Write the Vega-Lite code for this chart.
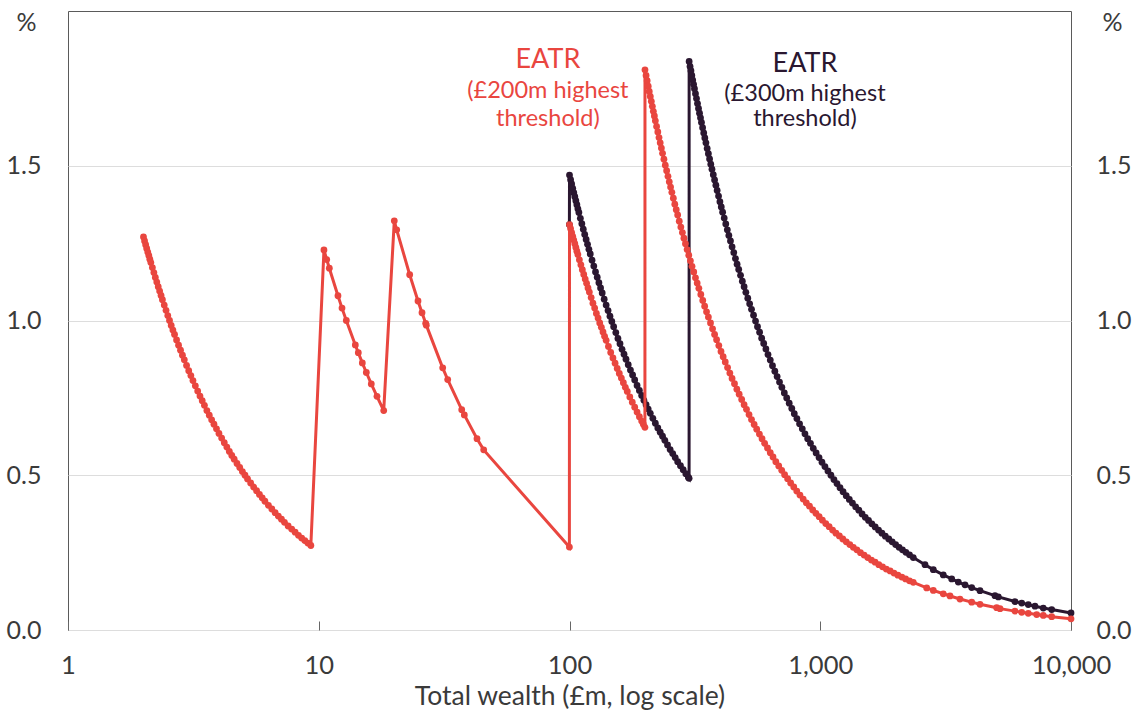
{
  "$schema": "https://vega.github.io/schema/vega-lite/v6.json",
  "width": 1003,
  "height": 619,
  "autosize": {"type": "none"},
  "padding": {"left": 68, "top": 11, "right": 66, "bottom": 81},
  "config": {
    "font": "Lato",
    "view": {"stroke": "#5a5a5a", "strokeWidth": 1},
    "axis": {"labelColor": "#3a3a3a", "titleColor": "#3a3a3a", "labelFont": "Lato", "titleFont": "Lato"}
  },
  "datasets": {
    "red": [
      {"w":2.00,"v":1.270},{"w":2.02,"v":1.257},{"w":2.04,"v":1.245},{"w":2.06,"v":1.233},{"w":2.08,"v":1.221},
      {"w":2.10,"v":1.210},{"w":2.12,"v":1.198},{"w":2.14,"v":1.187},{"w":2.17,"v":1.171},{"w":2.20,"v":1.155},
      {"w":2.23,"v":1.139},{"w":2.26,"v":1.124},{"w":2.29,"v":1.109},{"w":2.32,"v":1.095},{"w":2.35,"v":1.081},
      {"w":2.38,"v":1.067},{"w":2.42,"v":1.050},{"w":2.46,"v":1.033},{"w":2.50,"v":1.016},{"w":2.54,"v":1.000},
      {"w":2.58,"v":0.984},{"w":2.62,"v":0.969},{"w":2.66,"v":0.955},{"w":2.71,"v":0.937},{"w":2.76,"v":0.920},
      {"w":2.81,"v":0.904},{"w":2.86,"v":0.888},{"w":2.91,"v":0.873},{"w":2.97,"v":0.855},{"w":3.03,"v":0.838},
      {"w":3.09,"v":0.822},{"w":3.15,"v":0.806},{"w":3.22,"v":0.789},{"w":3.29,"v":0.772},{"w":3.36,"v":0.756},
      {"w":3.43,"v":0.741},{"w":3.50,"v":0.726},{"w":3.58,"v":0.709},{"w":3.66,"v":0.694},{"w":3.74,"v":0.679},
      {"w":3.82,"v":0.665},{"w":3.91,"v":0.650},{"w":4.00,"v":0.635},{"w":4.10,"v":0.620},{"w":4.20,"v":0.605},
      {"w":4.30,"v":0.591},{"w":4.40,"v":0.577},{"w":4.50,"v":0.564},{"w":4.60,"v":0.552},{"w":4.72,"v":0.538},
      {"w":4.84,"v":0.525},{"w":4.96,"v":0.512},{"w":5.08,"v":0.500},{"w":5.20,"v":0.488},{"w":5.35,"v":0.475},
      {"w":5.50,"v":0.462},{"w":5.65,"v":0.450},{"w":5.80,"v":0.438},{"w":5.95,"v":0.427},{"w":6.10,"v":0.416},
      {"w":6.30,"v":0.403},{"w":6.50,"v":0.391},{"w":6.70,"v":0.379},{"w":6.90,"v":0.368},{"w":7.10,"v":0.358},
      {"w":7.30,"v":0.348},{"w":7.55,"v":0.336},{"w":7.80,"v":0.326},{"w":8.05,"v":0.316},{"w":8.30,"v":0.306},
      {"w":8.55,"v":0.297},{"w":8.80,"v":0.289},{"w":9.05,"v":0.281},{"w":9.30,"v":0.273},
      {"w":10.49,"v":1.228},{"w":10.76,"v":1.197},{"w":11.02,"v":1.169},{"w":11.93,"v":1.080},{"w":12.38,"v":1.040},
      {"w":12.88,"v":1.000},{"w":13.99,"v":0.921},{"w":14.38,"v":0.896},{"w":14.92,"v":0.863},{"w":15.48,"v":0.832},
      {"w":16.20,"v":0.795},{"w":17.07,"v":0.755},{"w":18.16,"v":0.709},
      {"w":20.01,"v":1.322},{"w":20.46,"v":1.293},{"w":23.05,"v":1.148},{"w":24.88,"v":1.063},{"w":25.81,"v":1.025},
      {"w":26.70,"v":0.991},{"w":26.85,"v":0.985},{"w":31.21,"v":0.847},{"w":32.68,"v":0.809},{"w":37.17,"v":0.712},
      {"w":38.07,"v":0.695},{"w":42.77,"v":0.618},{"w":45.48,"v":0.582},{"w":99.9,"v":0.268},
      {"w":100,"v":1.310},{"w":101,"v":1.297},{"w":102,"v":1.284},{"w":103,"v":1.272},{"w":104,"v":1.260},
      {"w":105,"v":1.248},{"w":106,"v":1.236},{"w":107,"v":1.224},{"w":108,"v":1.213},{"w":109.5,"v":1.196},
      {"w":111,"v":1.180},{"w":112.5,"v":1.164},{"w":114,"v":1.149},{"w":115.5,"v":1.134},{"w":117,"v":1.120},
      {"w":118.5,"v":1.105},{"w":120,"v":1.092},{"w":122,"v":1.074},{"w":124,"v":1.056},{"w":126,"v":1.040},
      {"w":128,"v":1.023},{"w":130,"v":1.008},{"w":132,"v":0.992},{"w":134,"v":0.978},{"w":136,"v":0.963},
      {"w":138,"v":0.949},{"w":140,"v":0.936},{"w":143,"v":0.916},{"w":146,"v":0.897},{"w":149,"v":0.879},
      {"w":152,"v":0.862},{"w":155,"v":0.845},{"w":158,"v":0.829},{"w":161,"v":0.814},{"w":164,"v":0.799},
      {"w":167,"v":0.784},{"w":170,"v":0.771},{"w":174,"v":0.753},{"w":178,"v":0.736},{"w":182,"v":0.720},
      {"w":186,"v":0.704},{"w":190,"v":0.689},{"w":194,"v":0.675},{"w":197,"v":0.665},{"w":199.9,"v":0.655},
      {"w":200,"v":1.810},{"w":202,"v":1.792},{"w":204,"v":1.775},{"w":206,"v":1.757},{"w":208,"v":1.740},
      {"w":210,"v":1.724},{"w":212,"v":1.708},{"w":214,"v":1.692},{"w":216,"v":1.676},{"w":218,"v":1.661},
      {"w":220,"v":1.645},{"w":222.5,"v":1.627},{"w":225,"v":1.609},{"w":227.5,"v":1.591},{"w":230,"v":1.574},
      {"w":232.5,"v":1.557},{"w":235,"v":1.540},{"w":238,"v":1.521},{"w":241,"v":1.502},{"w":244,"v":1.484},
      {"w":247,"v":1.466},{"w":250,"v":1.448},{"w":253,"v":1.431},{"w":256,"v":1.414},{"w":259.5,"v":1.395},
      {"w":263,"v":1.376},{"w":266.5,"v":1.358},{"w":270,"v":1.341},{"w":274,"v":1.321},{"w":278,"v":1.302},
      {"w":282,"v":1.284},{"w":286,"v":1.266},{"w":290,"v":1.248},{"w":294.5,"v":1.229},{"w":299,"v":1.211},
      {"w":303.5,"v":1.193},{"w":308,"v":1.175},{"w":313,"v":1.157},{"w":318,"v":1.138},{"w":323,"v":1.121},
      {"w":328,"v":1.104},{"w":334,"v":1.084},{"w":340,"v":1.065},{"w":346,"v":1.046},{"w":352,"v":1.028},
      {"w":358,"v":1.011},{"w":365,"v":0.992},{"w":372,"v":0.973},{"w":379,"v":0.955},{"w":386,"v":0.938},
      {"w":394,"v":0.919},{"w":402,"v":0.900},{"w":410,"v":0.883},{"w":418,"v":0.866},{"w":427,"v":0.848},
      {"w":436,"v":0.830},{"w":445,"v":0.813},{"w":455,"v":0.796},{"w":465,"v":0.778},{"w":475,"v":0.762},
      {"w":486,"v":0.745},{"w":497,"v":0.728},{"w":508,"v":0.713},{"w":520,"v":0.696},{"w":532,"v":0.680},
      {"w":545,"v":0.664},{"w":558,"v":0.649},{"w":572,"v":0.633},{"w":586,"v":0.618},{"w":600,"v":0.603},
      {"w":616,"v":0.588},{"w":632,"v":0.573},{"w":648,"v":0.559},{"w":665,"v":0.544},{"w":683,"v":0.530},
      {"w":702,"v":0.516},{"w":721,"v":0.502},{"w":741,"v":0.489},{"w":762,"v":0.475},{"w":784,"v":0.462},
      {"w":806,"v":0.449},{"w":830,"v":0.436},{"w":855,"v":0.423},{"w":880,"v":0.411},{"w":906,"v":0.400},
      {"w":933,"v":0.388},{"w":961,"v":0.377},{"w":990,"v":0.366},{"w":1020,"v":0.355},{"w":1052,"v":0.344},
      {"w":1085,"v":0.334},{"w":1120,"v":0.323},{"w":1155,"v":0.313},{"w":1192,"v":0.304},{"w":1230,"v":0.294},
      {"w":1270,"v":0.285},{"w":1312,"v":0.276},{"w":1355,"v":0.267},{"w":1400,"v":0.259},{"w":1447,"v":0.250},
      {"w":1496,"v":0.242},{"w":1547,"v":0.234},{"w":1600,"v":0.226},{"w":1655,"v":0.219},{"w":1712,"v":0.211},
      {"w":1772,"v":0.204},{"w":1834,"v":0.197},{"w":1900,"v":0.191},{"w":1968,"v":0.184},{"w":2040,"v":0.177},
      {"w":2115,"v":0.171},{"w":2190,"v":0.165},{"w":2270,"v":0.159},{"w":2350,"v":0.154},{"w":2658,"v":0.136},
      {"w":2824,"v":0.128},{"w":3095,"v":0.117},{"w":3292,"v":0.110},{"w":3608,"v":0.100},{"w":4018,"v":0.090},
      {"w":4336,"v":0.083},{"w":5054,"v":0.072},{"w":5211,"v":0.069},{"w":5978,"v":0.061},{"w":6359,"v":0.057},
      {"w":6755,"v":0.054},{"w":7298,"v":0.050},{"w":7753,"v":0.047},{"w":8375,"v":0.043},{"w":10000,"v":0.036}
    ],
    "dark": [
      {"w":99.9,"v":1.310},
      {"w":100,"v":1.470},{"w":101,"v":1.455},{"w":102,"v":1.441},{"w":103,"v":1.427},{"w":104,"v":1.413},
      {"w":105,"v":1.400},{"w":106,"v":1.387},{"w":107,"v":1.374},{"w":108,"v":1.361},{"w":109,"v":1.349},
      {"w":110.5,"v":1.330},{"w":112,"v":1.313},{"w":113.5,"v":1.295},{"w":115,"v":1.278},{"w":116.5,"v":1.262},
      {"w":118,"v":1.246},{"w":119.5,"v":1.230},{"w":121,"v":1.215},{"w":123,"v":1.195},{"w":125,"v":1.176},
      {"w":127,"v":1.157},{"w":129,"v":1.140},{"w":131,"v":1.122},{"w":133,"v":1.105},{"w":135,"v":1.089},
      {"w":137.5,"v":1.069},{"w":140,"v":1.050},{"w":142.5,"v":1.032},{"w":145,"v":1.014},{"w":147.5,"v":0.997},
      {"w":150,"v":0.980},{"w":153,"v":0.961},{"w":156,"v":0.942},{"w":159,"v":0.925},{"w":162,"v":0.907},
      {"w":165,"v":0.891},{"w":168,"v":0.875},{"w":171.5,"v":0.857},{"w":175,"v":0.840},{"w":178.5,"v":0.824},
      {"w":182,"v":0.808},{"w":186,"v":0.790},{"w":190,"v":0.774},{"w":194,"v":0.758},{"w":198,"v":0.742},
      {"w":202,"v":0.728},{"w":206,"v":0.714},{"w":210,"v":0.700},{"w":215,"v":0.684},{"w":220,"v":0.668},
      {"w":225,"v":0.653},{"w":230,"v":0.639},{"w":235,"v":0.626},{"w":240,"v":0.613},{"w":246,"v":0.598},
      {"w":252,"v":0.583},{"w":258,"v":0.570},{"w":264,"v":0.557},{"w":270,"v":0.544},{"w":277,"v":0.531},
      {"w":284,"v":0.518},{"w":291,"v":0.505},{"w":298,"v":0.493},{"w":299.9,"v":0.490},
      {"w":300,"v":1.837},{"w":302.5,"v":1.821},{"w":305,"v":1.807},{"w":307.5,"v":1.792},{"w":310,"v":1.777},
      {"w":312.5,"v":1.763},{"w":315,"v":1.749},{"w":318,"v":1.733},{"w":321,"v":1.717},{"w":324,"v":1.701},
      {"w":327,"v":1.685},{"w":330,"v":1.670},{"w":333,"v":1.655},{"w":336,"v":1.640},{"w":339.5,"v":1.623},
      {"w":343,"v":1.606},{"w":346.5,"v":1.590},{"w":350,"v":1.574},{"w":354,"v":1.556},{"w":358,"v":1.539},
      {"w":362,"v":1.522},{"w":366,"v":1.505},{"w":370,"v":1.489},{"w":374.5,"v":1.471},{"w":379,"v":1.454},
      {"w":383.5,"v":1.437},{"w":388,"v":1.420},{"w":393,"v":1.402},{"w":398,"v":1.384},{"w":403,"v":1.367},
      {"w":408,"v":1.350},{"w":414,"v":1.331},{"w":420,"v":1.312},{"w":426,"v":1.293},{"w":432,"v":1.275},
      {"w":438.5,"v":1.257},{"w":445,"v":1.238},{"w":452,"v":1.219},{"w":459,"v":1.200},{"w":466,"v":1.182},
      {"w":473,"v":1.165},{"w":481,"v":1.146},{"w":489,"v":1.127},{"w":497,"v":1.109},{"w":505,"v":1.091},
      {"w":514,"v":1.072},{"w":523,"v":1.054},{"w":532,"v":1.036},{"w":542,"v":1.017},{"w":552,"v":0.998},
      {"w":562,"v":0.980},{"w":573,"v":0.962},{"w":584,"v":0.943},{"w":595,"v":0.926},{"w":607,"v":0.908},
      {"w":619,"v":0.890},{"w":632,"v":0.872},{"w":645,"v":0.854},{"w":659,"v":0.836},{"w":673,"v":0.819},
      {"w":688,"v":0.801},{"w":703,"v":0.784},{"w":719,"v":0.766},{"w":735,"v":0.750},{"w":752,"v":0.733},
      {"w":770,"v":0.716},{"w":788,"v":0.699},{"w":807,"v":0.683},{"w":827,"v":0.666},{"w":848,"v":0.650},
      {"w":869,"v":0.634},{"w":891,"v":0.618},{"w":914,"v":0.603},{"w":938,"v":0.587},{"w":963,"v":0.572},
      {"w":989,"v":0.557},{"w":1016,"v":0.542},{"w":1044,"v":0.528},{"w":1073,"v":0.514},{"w":1103,"v":0.500},
      {"w":1134,"v":0.486},{"w":1166,"v":0.473},{"w":1199,"v":0.460},{"w":1233,"v":0.447},{"w":1269,"v":0.434},
      {"w":1306,"v":0.422},{"w":1344,"v":0.410},{"w":1384,"v":0.398},{"w":1425,"v":0.387},{"w":1468,"v":0.375},
      {"w":1512,"v":0.364},{"w":1558,"v":0.354},{"w":1606,"v":0.343},{"w":1656,"v":0.333},{"w":1708,"v":0.323},
      {"w":1762,"v":0.313},{"w":1818,"v":0.303},{"w":1876,"v":0.294},{"w":1936,"v":0.285},{"w":1998,"v":0.276},
      {"w":2062,"v":0.267},{"w":2128,"v":0.259},{"w":2196,"v":0.251},{"w":2270,"v":0.243},{"w":2350,"v":0.234},
      {"w":2617,"v":0.211},{"w":2824,"v":0.195},{"w":3095,"v":0.178},{"w":3344,"v":0.165},{"w":3553,"v":0.155},
      {"w":3779,"v":0.146},{"w":4018,"v":0.137},{"w":4336,"v":0.127},{"w":4975,"v":0.111},{"w":5131,"v":0.107},
      {"w":5978,"v":0.092},{"w":6359,"v":0.087},{"w":6755,"v":0.082},{"w":7183,"v":0.077},{"w":7753,"v":0.071},
      {"w":8375,"v":0.066},{"w":10000,"v":0.055}
    ],
    "notesBig": [
      {"s":"r","t":"EATR","w":82,"v":1.842},
      {"s":"d","t":"EATR","w":869,"v":1.830}
    ],
    "notesSmall": [
      {"s":"r","t":"(£200m highest","w":82,"v":1.741},
      {"s":"r","t":"threshold)","w":82,"v":1.650},
      {"s":"d","t":"(£300m highest","w":869,"v":1.732},
      {"s":"d","t":"threshold)","w":869,"v":1.650}
    ]
  },
  "encoding": {
    "x": {
      "field": "w", "type": "quantitative",
      "scale": {"type": "log", "domain": [1, 10000], "nice": false},
      "axis": {
        "values": [1, 10, 100, 1000, 10000], "format": ",", "labelFlush": false, "labelOverlap": false,
        "labelFontSize": 25.5, "tickSize": -9, "tickColor": "#666666", "tickWidth": 1, "labelPadding": 32,
        "domain": false, "grid": false,
        "title": "Total wealth (£m, log scale)", "titleFontSize": 26.5, "titleFontWeight": "normal",
        "titleY": 74, "titleBaseline": "alphabetic"
      }
    },
    "y": {
      "field": "v", "type": "quantitative",
      "scale": {"domain": [0, 2], "nice": false, "zero": false},
      "axis": null
    }
  },
  "layer": [
    {
      "data": {"name": "dark"},
      "mark": {"type": "line", "color": "#2A1730", "strokeWidth": 3},
      "encoding": {
        "y": {
          "field": "v", "type": "quantitative",
          "scale": {"domain": [0, 2], "nice": false, "zero": false},
          "axis": {
            "orient": "left", "values": [0, 0.5, 1, 1.5], "format": ".1f", "ticks": false, "domain": false,
            "grid": true, "gridColor": "#dddddd", "gridWidth": 1, "labelFontSize": 25, "labelPadding": 27,
            "title": "%", "titleAngle": 0, "titleX": -42, "titleY": 19, "titleAlign": "center",
            "titleBaseline": "alphabetic", "titleFontSize": 25, "titleFontWeight": "normal"
          }
        }
      }
    },
    {
      "data": {"name": "dark"},
      "mark": {"type": "circle", "color": "#2A1730", "size": 46, "opacity": 1},
      "encoding": {
        "y": {
          "field": "v", "type": "quantitative",
          "scale": {"domain": [0, 2], "nice": false, "zero": false},
          "axis": {
            "orient": "right", "values": [0, 0.5, 1, 1.5], "format": ".1f", "ticks": false, "domain": false,
            "grid": false, "labelFontSize": 25, "labelPadding": 25,
            "title": "%", "titleAngle": 0, "titleX": 41, "titleY": 19, "titleAlign": "center",
            "titleBaseline": "alphabetic", "titleFontSize": 25, "titleFontWeight": "normal"
          }
        }
      }
    },
    {
      "data": {"name": "red"},
      "mark": {"type": "line", "color": "#E9463F", "strokeWidth": 3}
    },
    {
      "data": {"name": "red"},
      "mark": {"type": "circle", "color": "#E9463F", "size": 46, "opacity": 1}
    },
    {
      "data": {"name": "notesBig"},
      "mark": {"type": "text", "fontSize": 27, "align": "center", "baseline": "middle", "font": "Lato"},
      "encoding": {
        "text": {"field": "t", "type": "nominal"},
        "color": {"field": "s", "type": "nominal", "scale": {"domain": ["r", "d"], "range": ["#E9463F", "#2A1730"]}, "legend": null}
      }
    },
    {
      "data": {"name": "notesSmall"},
      "mark": {"type": "text", "fontSize": 23.5, "align": "center", "baseline": "middle", "font": "Lato"},
      "encoding": {
        "text": {"field": "t", "type": "nominal"},
        "color": {"field": "s", "type": "nominal", "scale": {"domain": ["r", "d"], "range": ["#E9463F", "#2A1730"]}, "legend": null}
      }
    }
  ],
  "resolve": {"axis": {"y": "independent"}}
}
